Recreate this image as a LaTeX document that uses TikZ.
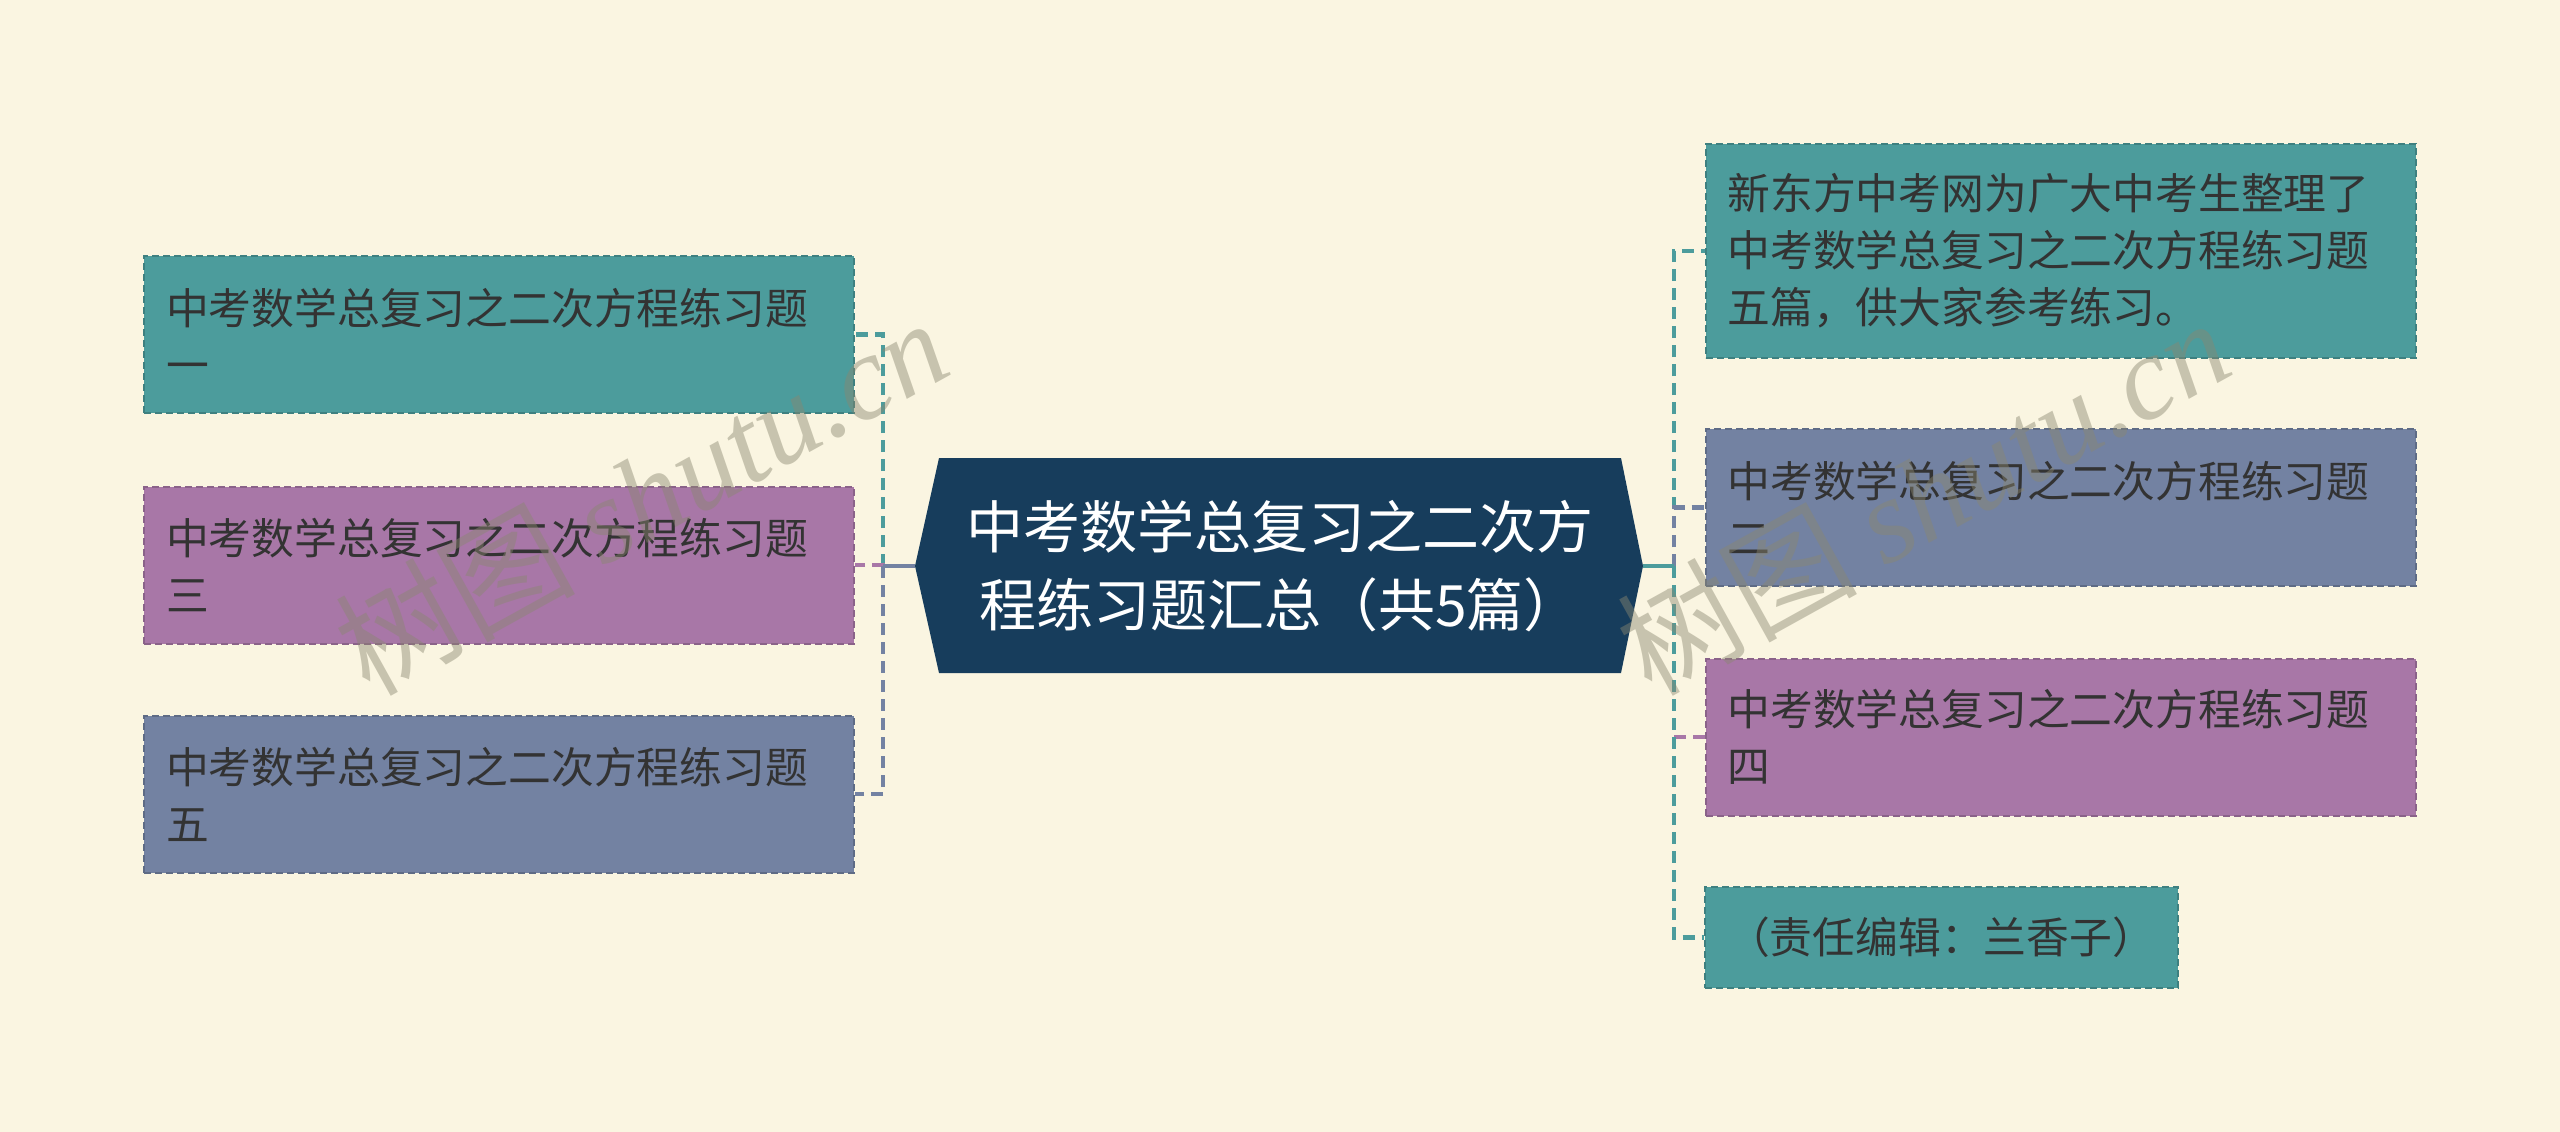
\documentclass[tikz,border=0pt]{standalone}
\usepackage{fontspec}
\setmainfont{Noto Sans CJK SC}
\newfontfamily\wmserif{Liberation Serif}
\definecolor{bg}{HTML}{FAF5E1}
\definecolor{tealc}{HTML}{4C9C9C}
\definecolor{purpc}{HTML}{A877A7}
\definecolor{slatec}{HTML}{7382A2}
\definecolor{navyc}{HTML}{173D5C}
\definecolor{txtc}{HTML}{333333}
\definecolor{wmc}{HTML}{8A8770}
\tikzset{
  leaf/.style={draw=#1!82!black, fill=#1, line width=2pt, dash pattern=on 7pt off 4pt,
    text=txtc, inner xsep=22pt, inner ysep=0pt, align=left,
    font=\fontsize{42.8}{57}\selectfont, minimum height=157pt, text width=666pt},
  conn/.style={draw=#1, line width=4.5pt, dash pattern=on 12pt off 7pt},
  stub/.style={draw=#1, line width=4.5pt},
  wmark/.style={text=wmc, opacity=0.45, inner sep=0pt, rotate=29, anchor=south west,
    font=\fontsize{120}{120}\selectfont}
}
\begin{document}
\begin{tikzpicture}[x=1pt,y=-1pt]
\fill[bg] (0,0) rectangle (2560,1132);
\useasboundingbox (0,0) rectangle (2560,1132);

% center node
\fill[navyc] (915,566) -- (939,458) -- (1621,458) -- (1643,566) -- (1621,673) -- (939,673) -- cycle;
\node[text=white, align=center, inner sep=0pt, font=\fontsize{57}{78}\selectfont] (C) at (1280,566)
  {中考数学总复习之二次方\\程练习题汇总（共5篇）};
\coordinate (cW) at (915,566);
\coordinate (cE) at (1643,566);
\coordinate (JL) at (883,566);
\coordinate (JR) at (1674,566);

% left leaves
\node[leaf=tealc] (L1) at (499,334.5) {中考数学总复习之二次方程练习题\\一};
\node[leaf=purpc] (L2) at (499,565) {中考数学总复习之二次方程练习题\\三};
\node[leaf=slatec] (L3) at (499,794) {中考数学总复习之二次方程练习题\\五};

% right leaves
\node[leaf=tealc, minimum height=214pt] (R1) at (2060.5,251)
  {新东方中考网为广大中考生整理了\\中考数学总复习之二次方程练习题\\五篇，供大家参考练习。};
\node[leaf=slatec] (R2) at (2060.5,507.5) {中考数学总复习之二次方程练习题\\二};
\node[leaf=purpc] (R3) at (2060.5,737) {中考数学总复习之二次方程练习题\\四};
\node[leaf=tealc, text width=429pt, minimum height=101pt] (R4) at (1941.5,937.5) {（责任编辑：兰香子）};

% connectors left
\draw[conn=tealc] (JL) |- (L1.east);
\draw[conn=purpc] (JL) |- (L2.east);
\draw[conn=slatec] (JL) |- (L3.east);
\draw[stub=slatec] (cW) -- (JL);

% connectors right
\draw[conn=tealc] (JR) |- (R1.west);
\draw[conn=slatec] (JR) |- (R2.west);
\draw[conn=purpc] (JR) |- (R3.west);
\draw[conn=tealc] (JR) |- (R4.west);
\draw[stub=tealc] (cE) -- (JR);

% watermarks
\node[wmark] (W1) at (374,706) {树图 {\wmserif\itshape shutu.cn}};
\node[wmark] (W2) at (1656,706) {树图 {\wmserif\itshape shutu.cn}};
\end{tikzpicture}
\end{document}
